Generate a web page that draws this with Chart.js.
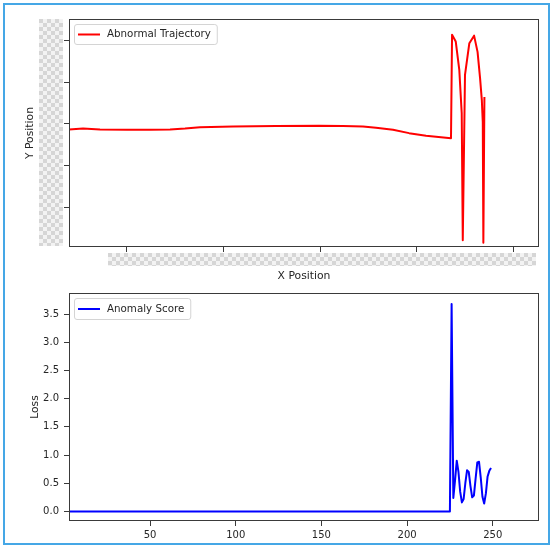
<!DOCTYPE html>
<html>
<head>
<meta charset="utf-8">
<script src="https://cdn.jsdelivr.net/npm/chart.js@4.4.1/dist/chart.umd.min.js"></script>
<style>
  html, body { margin: 0; padding: 0; background: #fff; }
  #frame { position: absolute; left: 3px; top: 3px; width: 547px; height: 542px;
           border: 2px solid #45a7e6; box-sizing: border-box; }
  #trajCanvas { position: absolute; left: 0; top: 0; }
  #lossCanvas { position: absolute; left: 0; top: 280px; }
</style>
</head>
<body>
<div id="frame"></div>
<canvas id="trajCanvas" width="552" height="290"></canvas>
<canvas id="lossCanvas" width="552" height="266"></canvas>
<script>
// Trajectory (X/Y position pairs)
const trajX = [40.0, 54.5, 72.1, 100.0, 123.9, 144.6, 160.1, 175.6, 209.8, 254.3, 298.8, 323.6,
               344.3, 357.8, 375.4, 392.0, 409.6, 435.4, 436.5, 440.3, 444.0, 446.5, 447.6, 449.9,
               454.4, 459.3, 462.9, 465.5, 467.3, 468.3, 468.9, 470.0];
const trajY = [18.7, 18.9, 18.7, 18.6, 18.6, 18.7, 18.9, 19.2, 19.4, 19.5, 19.6, 19.5,
               19.4, 19.1, 18.6, 17.8, 17.2, 16.6, 41.4, 39.8, 33.0, 22.6, -7.9, 31.8,
               39.4, 41.2, 37.3, 31.0, 25.8, 20.5, -8.5, 26.5];
const posXTicks = [100, 200, 300, 400, 500];
const posYTicks = [0, 10, 20, 30, 40];

// Anomaly score per time step
const lossX = [0, 225, 226, 227, 228, 229, 230, 231, 232, 233, 234, 235, 236, 237,
               238, 239, 240, 241, 242, 243, 244, 245, 246, 247, 248, 249];
const lossY = [0, 0, 3.68, 0.24, 0.55, 0.90, 0.70, 0.35, 0.16, 0.22, 0.50, 0.73, 0.70, 0.45,
               0.25, 0.28, 0.58, 0.87, 0.88, 0.60, 0.26, 0.14, 0.32, 0.62, 0.72, 0.77];
const lossXTicks = [50, 100, 150, 200, 250];
const lossYTicks = [0, 0.5, 1.0, 1.5, 2.0, 2.5, 3.0, 3.5];

const FONT = "'DejaVu Sans', sans-serif";
Chart.defaults.font.family = FONT;
Chart.defaults.font.size = 10;
Chart.defaults.color = '#262626';
Chart.defaults.animation = false;

const SPINE = '#3a3a3a';
const TEXT = '#262626';

// full rectangular frame around the plotting area
const framePlugin = {
  id: 'frame',
  afterDraw(chart) {
    const { ctx, chartArea: a } = chart;
    ctx.save();
    ctx.strokeStyle = SPINE;
    ctx.lineWidth = 1;
    ctx.strokeRect(Math.round(a.left) + 0.5, Math.round(a.top) + 0.5,
                   Math.round(a.right - a.left) - 1, Math.round(a.bottom - a.top) - 1);
    ctx.restore();
  }
};

// legend box in the upper-left corner of the plotting area
const legendBoxPlugin = {
  id: 'legendBox',
  afterDraw(chart, args, opts) {
    const { ctx, chartArea: a } = chart;
    const ds = chart.data.datasets[0];
    const x = a.left + 5, y = a.top + 5, h = opts.height;
    ctx.save();
    ctx.font = '10.3px ' + FONT;
    const tw = ctx.measureText(ds.label).width;
    const w = 33 + tw + 6;
    ctx.beginPath();
    ctx.roundRect(x + 0.5, y + 0.5, w, h, 2.5);
    ctx.fillStyle = 'rgba(255,255,255,0.85)';
    ctx.fill();
    ctx.strokeStyle = '#d4d4d4';
    ctx.lineWidth = 1;
    ctx.stroke();
    const cy = y + h / 2 + 0.5;
    ctx.beginPath();
    ctx.moveTo(x + 4, cy);
    ctx.lineTo(x + 26, cy);
    ctx.strokeStyle = ds.borderColor;
    ctx.lineWidth = 2;
    ctx.stroke();
    ctx.fillStyle = TEXT;
    ctx.textBaseline = 'middle';
    ctx.textAlign = 'left';
    ctx.fillText(ds.label, x + 33, cy);
    ctx.restore();
  }
};

// checkered masks over the position axis labels
const checkerPlugin = {
  id: 'checker',
  afterDraw(chart, args, opts) {
    const ctx = chart.ctx;
    ctx.save();
    for (const r of opts.areas) {
      for (let yy = r.y; yy < r.y + r.h; yy += 4) {
        for (let xx = r.x; xx < r.x + r.w; xx += 4) {
          const odd = (((xx - r.x) / 4) + ((yy - r.y) / 4)) % 2;
          ctx.fillStyle = odd ? '#f3f3f3' : '#d6d6d6';
          ctx.fillRect(xx, yy, Math.min(4, r.x + r.w - xx), Math.min(4, r.y + r.h - yy));
        }
      }
    }
    ctx.restore();
  }
};

function tickSetter(list) {
  return s => { s.ticks = list.map(v => ({ value: v })); };
}

const gridOpts = { display: true, drawOnChartArea: false, drawTicks: true,
                   tickLength: 5, tickColor: SPINE, tickWidth: 1 };
const titleFont = { size: 10.8 };

new Chart(document.getElementById('trajCanvas'), {
  type: 'scatter',
  data: {
    datasets: [{
      label: 'Abnormal Trajectory',
      data: trajX.map((x, i) => ({ x, y: trajY[i] })),
      showLine: true,
      borderColor: '#ff0000',
      borderWidth: 2,
      borderJoinStyle: 'round',
      pointRadius: 0,
      tension: 0
    }]
  },
  options: {
    responsive: false,
    layout: { padding: { top: 19, right: 13, left: 0, bottom: 0 } },
    plugins: {
      legend: { display: false },
      tooltip: { enabled: false },
      legendBox: { height: 20 },
      checker: { areas: [{ x: 39, y: 19, w: 24, h: 227 }, { x: 108, y: 253, w: 428, h: 13 }] }
    },
    scales: {
      x: {
        type: 'linear', min: 40, max: 526.5,
        afterBuildTicks: tickSetter(posXTicks),
        afterFit: s => { s.height = 43; },
        ticks: { display: false },
        grid: gridOpts,
        border: { display: false },
        title: { display: true, text: 'X Position', font: titleFont, color: TEXT,
                 padding: { top: 0, bottom: 7 } }
      },
      y: {
        type: 'linear', min: -9.53, max: 45.2,
        afterBuildTicks: tickSetter(posYTicks),
        afterFit: s => { s.width = 69; },
        ticks: { display: false },
        grid: gridOpts,
        border: { display: false },
        title: { display: true, text: 'Y Position', font: titleFont, color: TEXT,
                 padding: { top: 24, bottom: 0 } }
      }
    }
  },
  plugins: [framePlugin, legendBoxPlugin, checkerPlugin]
});

new Chart(document.getElementById('lossCanvas'), {
  type: 'scatter',
  data: {
    datasets: [{
      label: 'Anomaly Score',
      data: lossX.map((x, i) => ({ x, y: lossY[i] })),
      showLine: true,
      borderColor: '#0000ff',
      borderWidth: 2,
      borderJoinStyle: 'round',
      pointRadius: 0,
      tension: 0
    }]
  },
  options: {
    responsive: false,
    layout: { padding: { top: 13, right: 13, left: 0, bottom: 0 } },
    plugins: {
      legend: { display: false },
      tooltip: { enabled: false },
      legendBox: { height: 21 }
    },
    scales: {
      x: {
        type: 'linear', min: 2.7, max: 277,
        afterBuildTicks: tickSetter(lossXTicks),
        afterFit: s => { s.height = 25; },
        ticks: { padding: 3, color: TEXT, callback: v => String(v) },
        grid: gridOpts,
        border: { display: false }
      },
      y: {
        type: 'linear', min: -0.17, max: 3.875,
        afterBuildTicks: tickSetter(lossYTicks),
        afterFit: s => { s.width = 69; },
        ticks: { padding: 5, color: TEXT, callback: v => v.toFixed(1) },
        grid: gridOpts,
        border: { display: false },
        title: { display: true, text: 'Loss', font: titleFont, color: TEXT,
                 padding: { top: 29, bottom: 0 } }
      }
    }
  },
  plugins: [framePlugin, legendBoxPlugin]
});
</script>
</body>
</html>
